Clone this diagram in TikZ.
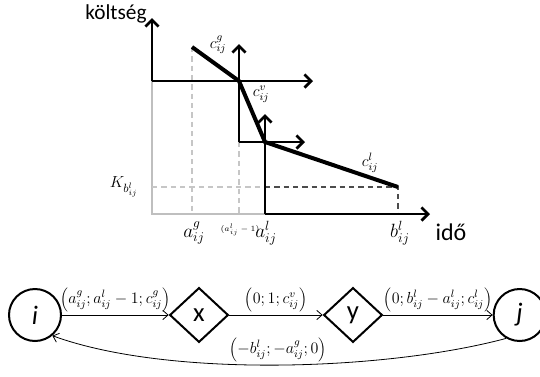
\documentclass[tikz,border=0pt]{standalone}
\usepackage{fontspec}
\newfontfamily\calibfont{Carlito}
\usetikzlibrary{arrows.meta,positioning,shapes.geometric}

\begin{document}
\begin{tikzpicture}[
  x=0.75pt, y=-0.75pt,
  node distance=80pt,
  every node/.style={font=\fontsize{12}{14}\selectfont},
  axisarr/.style={line width=2pt, -{Straight Barb[length=5pt,width=10pt]}},
  grayaxis/.style={line width=1.8pt, gray!50},
  slope/.style={line width=3pt},
  guide/.style={line width=0.8pt, gray!45, dash pattern=on 4pt off 3pt},
  darkguide/.style={line width=0.8pt, black!70, dash pattern=on 4pt off 3pt},
  ticklbl/.style={font=\fontsize{14}{16}\selectfont},
  word/.style={font=\calibfont\fontsize{16}{18}\selectfont},
  state/.style={circle, draw=black, line width=1.5pt, minimum size=39pt, inner sep=0pt, font=\calibfont\itshape\fontsize{20}{22}\selectfont},
  gate/.style={diamond, draw=black, line width=1.5pt, minimum width=44pt, minimum height=41pt, inner sep=0pt, font=\calibfont\fontsize{20}{22}\selectfont},
  arr/.style={-{Straight Barb[length=4pt,width=7pt]}, line width=0.6pt}
]
\useasboundingbox (0,0) rectangle (540,376);

\draw[grayaxis] (152,81) -- (152,214) -- (265,214);
\draw[guide] (192,47) -- (192,214);
\draw[guide] (239,142) -- (239,214);
\draw[guide] (152,187) -- (265,187);
\draw[darkguide] (265,187) -- (398,187) -- (398,214);

\draw[axisarr] (152,81) -- (152,18);
\draw[axisarr] (152,81) -- (313,81);
\draw[axisarr] (239,142) -- (239,44);
\draw[axisarr] (239,142) -- (305,142);
\draw[axisarr] (265,214) -- (265,114);
\draw[axisarr] (265,214) -- (430,214);

\draw[slope] (192,47) -- (239,81) -- (265,142) -- (398,187);

\node[word] (cost) at (116,14) {költség};
\node[word, font=\calibfont\fontsize{18}{20}\selectfont] (time) at (451,232) {idő};
\node (cg) at (218,45) {$c^g_{ij}$};
\node (cv) at (261,94) {$c^v_{ij}$};
\node (cl) at (370,163) {$c^l_{ij}$};
\node[font=\fontsize{13}{15}\selectfont] (kb) at (124,187) {$K_{b^l_{ij}}$};
\node[ticklbl] (ag) at (194,233) {$a^g_{ij}$};
\node[font=\fontsize{6}{7}\selectfont] (alm) at (240,230) {$(a^l_{ij}-1)$};
\node[ticklbl] (al) at (266,233) {$a^l_{ij}$};
\node[ticklbl] (bl) at (400,233) {$b^l_{ij}$};

\node[state] (i) at (35,315) {i};
\node[gate, right=80pt of i] (x) {x};
\node[gate, right=70pt of x] (y) {y};
\node[state, right=82pt of y] (j) {j};

\draw[arr] (i) -- node[above=-1pt] (lix) {$\left(a^g_{ij};a^l_{ij}-1;c^g_{ij}\right)$} (x);
\draw[arr] (x) -- node[above=-1pt] (lxy) {$\left(0;1;c^v_{ij}\right)$} (y);
\draw[arr] (y) -- node[above=-1pt] (lyj) {$\left(0;b^l_{ij}-a^l_{ij};c^l_{ij}\right)$} (j);
\draw[arr] (j.240) to[out=195, in=-20, looseness=0.7] node[midway, above=-1pt] (lji) {$\left(-b^l_{ij};-a^g_{ij};0\right)$} (i.-50);
\end{tikzpicture}
\end{document}
